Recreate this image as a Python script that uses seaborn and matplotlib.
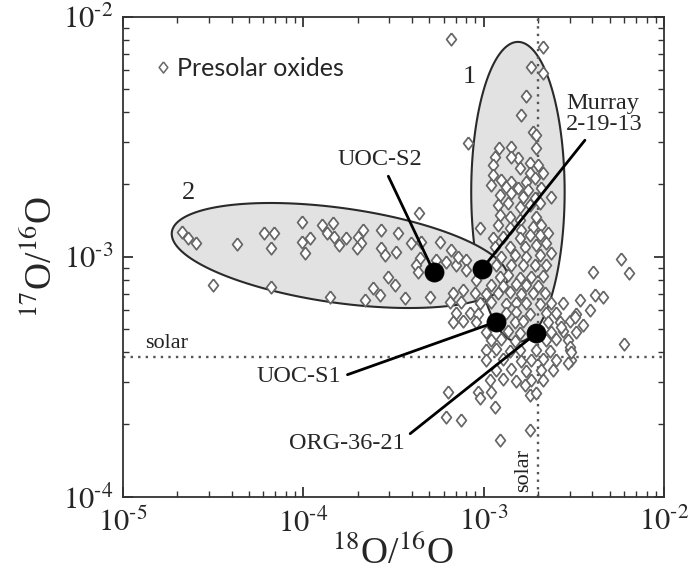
import numpy as np
import pandas as pd
import matplotlib
matplotlib.use("Agg")
import matplotlib.pyplot as plt
import seaborn as sns
from matplotlib.lines import Line2D
from matplotlib.ticker import NullFormatter, LogLocator

sns.set_style("ticks")
plt.rcParams["font.family"] = ["Liberation Serif", "DejaVu Serif"]
plt.rcParams["mathtext.fontset"] = "stix"

# ---------------- data (log10 of the isotope ratios) ----------------
# grains in / around ellipse 2 (18O-depleted)
grp2_log18 = [-4.675, -4.642, -4.596, -4.370, -4.217, -4.163, -4.182, -4.010, -4.010, -3.964,
              -3.992, -3.899, -3.838, -3.871, -3.829, -3.802, -3.761, -4.500, -4.180, -3.852,
              -3.696, -3.669, -3.678, -3.705, -3.567, -3.475, -3.567, -3.548, -3.484, -3.401,
              -3.345, -3.244, -3.355, -3.373, -3.364, -3.262, -3.179, -3.207, -3.151, -3.100,
              -3.096, -3.530, -3.493, -3.613, -3.576, -3.659, -3.438, -3.299, -3.188, -3.115,
              -3.124, -3.022, -3.040, -3.358]
grp2_log17 = [-2.896, -2.923, -2.944, -2.948, -2.900, -2.903, -2.965, -2.857, -2.938, -2.923,
              -2.983, -2.868, -2.861, -2.903, -2.917, -2.951, -2.923, -3.118, -3.128, -3.169,
              -2.917, -2.889, -2.944, -2.965, -2.889, -2.903, -2.965, -2.993, -2.979, -2.944,
              -2.938, -2.938, -3.005, -3.035, -3.063, -3.014, -2.972, -3.021, -3.035, -3.014,
              -3.055, -3.083, -3.118, -3.132, -3.160, -3.180, -3.173, -3.167, -3.188, -3.139,
              -3.188, -2.882, -3.097, -2.819]

# grains in ellipse 1 (17O-rich)
grp1_log18 = [-3.179, -2.671, -2.736, -2.671, -2.767, -2.791, -3.087, -2.727, -2.708, -2.847,
              -2.915, -2.939, -2.708, -2.810, -2.745, -2.625, -2.671,
              -2.948, -2.847, -2.699, -2.800, -2.745, -2.948, -2.902, -2.847, -2.763, -2.717,
              -2.957, -2.874, -2.810, -2.755, -2.680, -2.911, -2.847, -2.782, -2.717, -2.921,
              -2.865, -2.800, -2.745, -2.690, -2.911, -2.856, -2.800, -2.708, -2.921, -2.856,
              -2.791, -2.727, -2.680, -2.948, -2.893, -2.800, -2.745, -2.690, -2.644, -2.939,
              -2.856, -2.773, -2.708, -2.653, -2.902, -2.828, -2.763, -2.690, -2.625, -2.930,
              -2.847, -2.782, -2.717, -2.653, -3.142]
grp1_log17 = [-2.093, -2.125, -2.208, -2.233, -2.330, -2.410, -2.528, -2.479, -2.493, -2.542,
              -2.548, -2.583, -2.548, -2.590, -2.611, -2.750, -2.653,
              -2.618, -2.583, -2.618, -2.632, -2.653, -2.660, -2.680, -2.688, -2.688, -2.673,
              -2.701, -2.708, -2.715, -2.722, -2.715, -2.743, -2.736, -2.750, -2.757, -2.785,
              -2.778, -2.792, -2.785, -2.778, -2.826, -2.833, -2.847, -2.833, -2.868, -2.882,
              -2.889, -2.875, -2.868, -2.923, -2.917, -2.923, -2.910, -2.910, -2.903, -2.958,
              -2.958, -2.958, -2.951, -2.944, -3.000, -2.993, -3.000, -2.993, -2.986, -3.035,
              -3.035, -3.035, -3.035, -3.035, -3.000]

# grains near solar (group 1 tail)
core_log18 = [-2.911, -2.865, -2.800, -2.736, -2.671,
              -2.957, -2.893, -2.819, -2.763, -2.699,
              -3.170, -3.050, -2.985, -2.921, -2.856, -2.791, -2.727, -2.662,
              -3.022, -2.957, -2.874, -2.819, -2.763, -2.690, -2.625, -2.561,
              -3.151, -3.078, -3.032, -2.874, -2.819, -2.745, -2.653, -2.598, -2.487,
              -3.170, -3.115, -3.040, -2.828, -2.782, -2.644, -2.579, -2.524,
              -2.985, -2.865, -2.800, -2.625, -2.561, -2.487,
              -2.957, -2.902, -2.828, -2.653, -2.598, -2.533,
              -2.985, -2.930, -2.856, -2.800, -2.708, -2.634, -2.524,
              -2.985, -2.893, -2.791, -2.736, -2.671, -2.598, -2.515,
              -2.930, -2.847, -2.763, -2.680, -2.616,
              -2.967, -2.893, -2.819, -2.736, -2.671]
core_log17 = [-3.083, -3.078, -3.088, -3.083, -3.080,
              -3.118, -3.122, -3.115, -3.118, -3.121,
              -3.153, -3.150, -3.156, -3.153, -3.149, -3.155, -3.153, -3.151,
              -3.194, -3.190, -3.197, -3.194, -3.191, -3.196, -3.194, -3.192,
              -3.236, -3.233, -3.239, -3.236, -3.232, -3.238, -3.236, -3.233, -3.237,
              -3.271, -3.268, -3.274, -3.271, -3.269, -3.273, -3.271, -3.268,
              -3.313, -3.310, -3.316, -3.313, -3.310, -3.315,
              -3.347, -3.344, -3.350, -3.347, -3.344, -3.349,
              -3.389, -3.386, -3.392, -3.389, -3.387, -3.391, -3.389,
              -3.430, -3.427, -3.433, -3.430, -3.428, -3.432, -3.430,
              -3.472, -3.469, -3.475, -3.472, -3.470,
              -3.514, -3.511, -3.517, -3.514, -3.512]

# scattered grains (low 17O, and 18O-rich)
tail_log18 = [-2.773, -2.745, -2.708, -3.198, -3.032, -3.022, -2.957, -2.939, -3.207, -3.124,
              -2.745, -2.911,
              -2.237, -2.195, -2.394, -2.385, -2.339, -2.468, -2.413, -2.450, -2.496, -2.570,
              -2.524, -2.515, -2.533, -2.222]
tail_log17 = [-3.535, -3.576, -3.569, -3.563, -3.563, -3.590, -3.563, -3.625, -3.667, -3.680,
              -3.722, -3.764,
              -3.011, -3.069, -3.063, -3.160, -3.167, -3.180, -3.222, -3.285, -3.250, -3.292,
              -3.375, -3.396, -3.444, -3.364]

# meteorite grains (black dots)
grain_names = ["UOC-S2", "Murray\n2-19-13", "UOC-S1", "ORG-36-21"]
grain_o18 = [5.3e-4, 9.8e-4, 1.17e-3, 1.96e-3]
grain_o17 = [8.6e-4, 8.9e-4, 5.35e-4, 4.8e-4]

solar_o18 = 2.0e-3
solar_o17 = 3.83e-4

x_ticks = [1e-5, 1e-4, 1e-3, 1e-2]
x_ticklabels = [r"$10^{\text{-}5}$", r"$10^{\text{-}4}$", r"$10^{\text{-}3}$", r"$10^{\text{-}2}$"]
y_ticks = [1e-4, 1e-3, 1e-2]
y_ticklabels = [r"$10^{\text{-}4}$", r"$10^{\text{-}3}$", r"$10^{\text{-}2}$"]

# ---------------- frame ----------------
log18 = np.array(grp2_log18 + grp1_log18 + core_log18 + tail_log18)
log17 = np.array(grp2_log17 + grp1_log17 + core_log17 + tail_log17)
df = pd.DataFrame({"o18": 10.0 ** log18, "o17": 10.0 ** log17})
dots = pd.DataFrame({"o18": grain_o18, "o17": grain_o17, "name": grain_names})

fig = plt.figure(figsize=(6.9, 5.76), dpi=100)
ax = fig.add_axes([123 / 690, (576 - 496.7) / 576, 541 / 690, 480 / 576])
ax.set_xscale("log")
ax.set_yscale("log")
ax.set_xlim(1e-5, 1e-2)
ax.set_ylim(1e-4, 1e-2)

# ellipses (centre, semi-axis vectors in decades)
ellipses = [(-2.810, -2.730, 0.259, 0.0, 0.0, 0.625),
            (-3.798, -2.995, 0.931, -0.098, 0.0364, 0.1956)]
t = np.linspace(0, 2 * np.pi, 400)
for cx, cy, ux, uy, vx, vy in ellipses:
    ex = 10.0 ** (cx + ux * np.cos(t) + vx * np.sin(t))
    ey = 10.0 ** (cy + uy * np.cos(t) + vy * np.sin(t))
    ax.fill(ex, ey, facecolor="#e2e2e2", edgecolor="#2a2a2a", lw=1.5, zorder=1)

ax.axhline(solar_o17, color="#555555", ls=(0, (1, 2.2)), lw=1.7, zorder=2)
ax.axvline(solar_o18, color="#555555", ls=(0, (1, 2.2)), lw=1.7, zorder=2)

diamond = [(0, 1), (0.78, 0), (0, -1), (-0.78, 0), (0, 1)]
sns.scatterplot(data=df, x="o18", y="o17", ax=ax, marker=diamond, s=82,
                color="white", edgecolor="#666666", linewidth=1.25, zorder=3, legend=False)
sns.scatterplot(data=dots, x="o18", y="o17", ax=ax, s=190, color="black",
                edgecolor="black", linewidth=0.5, zorder=6, legend=False)

# leader lines and labels
lab_fs = 17.5
ann = [
    ("UOC-S2", 0, (2.65e-4, 2.53e-3), "center", "center", (0.57, 0.0)),
    ("Murray\n2-19-13", 1, (2.87e-3, 3.94e-3), "left", "center", (0.3, 0.0)),
    ("UOC-S1", 2, (1.63e-4, 3.16e-4), "right", "center", (1.0, 0.5)),
    ("ORG-36-21", 3, (3.65e-4, 1.67e-4), "right", "center", (1.0, 0.75)),
]
for text, i, pos, ha, va, rp in ann:
    ax.annotate(text, xy=(grain_o18[i], grain_o17[i]), xytext=pos,
                ha=ha, va=va, fontsize=lab_fs, linespacing=1.0, zorder=5,
                arrowprops=dict(arrowstyle="-", lw=2.0, color="black",
                                shrinkA=2, shrinkB=0, relpos=rp))

ax.text(1.32e-5, 4.35e-4, "solar", fontsize=16, ha="left", va="center", color="#222222")
ax.text(1.67e-3, 1.29e-4, "solar", fontsize=16, ha="center", va="center",
        rotation=90, color="#222222")
ax.text(8.35e-4, 5.62e-3, "1", fontsize=19, ha="center", va="center")
ax.text(2.30e-5, 1.84e-3, "2", fontsize=19, ha="center", va="center")

# legend
h = Line2D([], [], marker=diamond, ls="", mfc="white", mec="#666666", mew=1.1, ms=8)
ax.legend([h], ["Presolar oxides"], loc="center left", bbox_to_anchor=(0.062, 0.893),
          frameon=False, handlelength=0.55, handletextpad=0.25, borderpad=0,
          borderaxespad=0, prop=dict(family="Lato", size=18))

# axes styling
for s in ax.spines.values():
    s.set_linewidth(1.3)
    s.set_color("#333333")
ax.set_xticks(x_ticks)
ax.set_xticklabels(x_ticklabels)
ax.set_yticks(y_ticks)
ax.set_yticklabels(y_ticklabels)
ax.xaxis.set_minor_locator(LogLocator(base=10, subs=np.arange(2, 10)))
ax.yaxis.set_minor_locator(LogLocator(base=10, subs=np.arange(2, 10)))
ax.xaxis.set_minor_formatter(NullFormatter())
ax.yaxis.set_minor_formatter(NullFormatter())
ax.tick_params(which="both", direction="in", top=True, right=True, color="#333333")
ax.tick_params(which="major", length=7, width=1.3, labelsize=22)
ax.tick_params(which="minor", length=4, width=1.0)
ax.tick_params(axis="x", which="major", pad=8)
ax.tick_params(axis="y", which="major", pad=7)
ax.set_xlabel(r"$^{18}$O/$^{16}$O", fontsize=27, labelpad=-2)
ax.set_ylabel(r"$^{17}$O/$^{16}$O", fontsize=27, labelpad=2)

fig.savefig("out.png", dpi=100)
